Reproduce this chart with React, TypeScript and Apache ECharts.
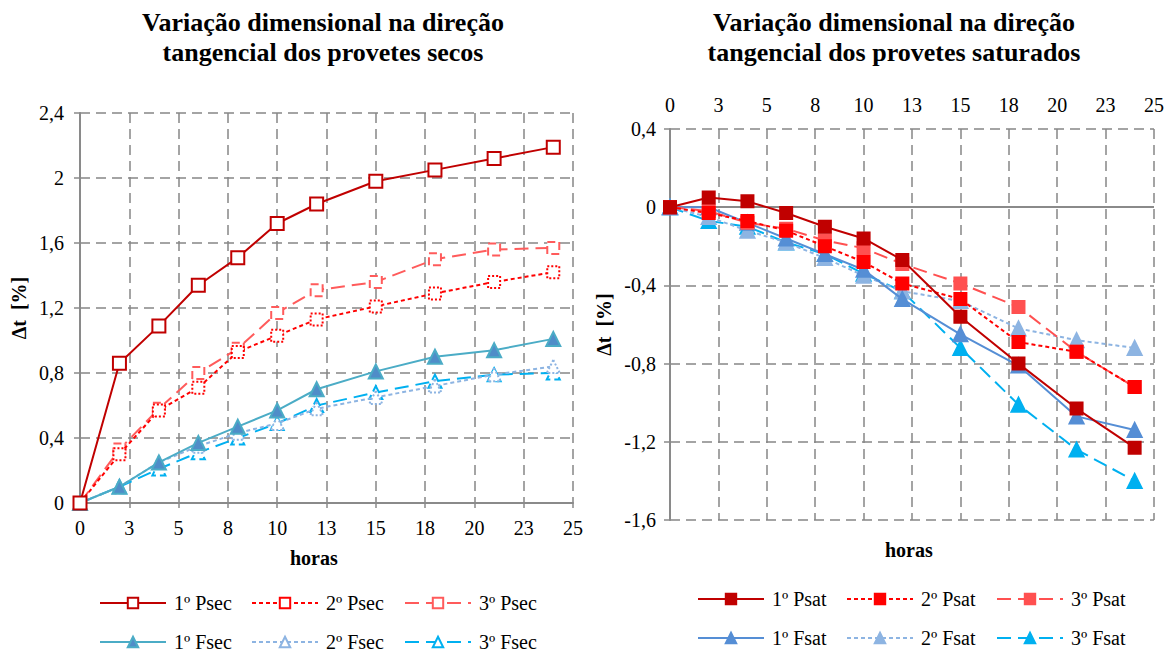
import React, { useEffect, useRef } from "react";
import * as echarts from "echarts";

const hours = [0, 2, 4, 6, 8, 10, 12, 15, 18, 21, 24];
const xTickLabels = ["0", "3", "5", "8", "10", "13", "15", "18", "20", "23", "25"];

// Dry specimens (secos)
const psec1 = [0, 0.86, 1.09, 1.34, 1.51, 1.72, 1.84, 1.98, 2.05, 2.12, 2.19];
const psec2 = [0, 0.3, 0.57, 0.71, 0.93, 1.03, 1.13, 1.21, 1.29, 1.36, 1.42];
const psec3 = [0, 0.33, 0.58, 0.8, 0.95, 1.17, 1.31, 1.36, 1.5, 1.56, 1.57];
const fsec1 = [0, 0.1, 0.25, 0.37, 0.47, 0.57, 0.7, 0.81, 0.9, 0.94, 1.01];
const fsec2 = [0, 0.1, 0.25, 0.35, 0.43, 0.49, 0.58, 0.65, 0.72, 0.79, 0.84];
const fsec3 = [0, 0.1, 0.21, 0.31, 0.4, 0.49, 0.6, 0.68, 0.75, 0.79, 0.8];

// Saturated specimens (saturados)
const psat1 = [0, 0.05, 0.03, -0.03, -0.1, -0.16, -0.27, -0.56, -0.8, -1.03, -1.23];
const psat2 = [0, -0.03, -0.07, -0.12, -0.2, -0.28, -0.39, -0.47, -0.69, -0.74, -0.92];
const psat3 = [0, -0.02, -0.08, -0.11, -0.17, -0.21, -0.29, -0.39, -0.51, -0.74, -0.92];
const fsat1 = [0, 0.0, -0.08, -0.16, -0.24, -0.32, -0.47, -0.65, -0.81, -1.07, -1.14];
const fsat2 = [0, -0.05, -0.12, -0.18, -0.26, -0.35, -0.43, -0.48, -0.62, -0.68, -0.72];
const fsat3 = [0, -0.07, -0.1, -0.18, -0.24, -0.34, -0.43, -0.72, -1.01, -1.24, -1.4];

const FONT = "Liberation Serif";
const GRID_COLOR = "#878787";
const AXIS_COLOR = "#8a8a8a";

const fmtY = (v: number) => String(+v.toFixed(1)).replace(".", ",");
const fmtX = (v: number) => xTickLabels[Math.round(v / 2.5)] ?? "";

const pair = (vals: number[]) => hours.map((h, i) => [h, vals[i]]);

const DOT = [4, 3];
const DASH = [14, 7];

function mkSeries(
  name: string,
  vals: number[],
  idx: number,
  color: string,
  dash: any,
  symbol: string,
  fill: string,
  borderDash: any,
  size: number,
  z: number,
  extra: any = {}
) {
  return {
    name,
    type: "line",
    xAxisIndex: idx,
    yAxisIndex: idx,
    data: pair(vals),
    symbol,
    symbolSize: size,
    showAllSymbol: true,
    z,
    lineStyle: { color, width: 2, type: dash },
    itemStyle: { color: fill, borderColor: color, borderWidth: 2, borderType: borderDash },
    emphasis: { disabled: true },
    ...extra,
  };
}

export default function App() {
  const ref = useRef<HTMLDivElement>(null);
  useEffect(() => {
    if (!ref.current) return;
    const chart = echarts.init(ref.current, undefined, { renderer: "svg" });

    const axisLabel = { color: "#000", fontFamily: FONT, fontSize: 20 };
    const splitLine = { show: true, lineStyle: { color: GRID_COLOR, width: 1.5, type: [10, 6] } };

    const legendPos = [
      // left chart
      { name: "1º Psec", left: 99, top: 593 },
      { name: "2º Psec", left: 251, top: 593 },
      { name: "3º Psec", left: 404, top: 593 },
      { name: "1º Fsec", left: 99, top: 632 },
      { name: "2º Fsec", left: 251, top: 632 },
      { name: "3º Fsec", left: 404, top: 632 },
      // right chart
      { name: "1º Psat", left: 697, top: 589 },
      { name: "2º Psat", left: 846, top: 589 },
      { name: "3º Psat", left: 996, top: 589 },
      { name: "1º Fsat", left: 697, top: 628 },
      { name: "2º Fsat", left: 846, top: 628 },
      { name: "3º Fsat", left: 996, top: 628 },
    ];

    const titleStyle = { fontFamily: FONT, fontSize: 26, fontWeight: "bold", color: "#000", lineHeight: 30 };

    const option: any = {
      animation: false,
      backgroundColor: "#fff",
      textStyle: { fontFamily: FONT },
      title: [
        {
          text: "Variação dimensional na direção\ntangencial dos provetes secos",
          left: 318,
          top: 2,
          textAlign: "center",
          textStyle: titleStyle,
        },
        {
          text: "Variação dimensional na direção\ntangencial dos provetes saturados",
          left: 889,
          top: 2,
          textAlign: "center",
          textStyle: titleStyle,
        },
      ],
      legend: legendPos.map((l) => ({
        data: [l.name],
        left: l.left,
        top: l.top,
        padding: 0,
        itemWidth: 66,
        itemHeight: 13,
        itemGap: 0,
        selectedMode: false,
        textStyle: { fontFamily: FONT, fontSize: 20, color: "#000", padding: [0, 0, 0, 3] },
      })),
      grid: [
        { left: 80, top: 113, width: 493, height: 390 },
        { left: 670, top: 129, width: 484, height: 391 },
      ],
      xAxis: [
        {
          gridIndex: 0,
          type: "value",
          min: 0,
          max: 25,
          interval: 2.5,
          position: "bottom",
          axisLine: { show: true, onZero: false, lineStyle: { color: AXIS_COLOR, width: 2 } },
          axisTick: { show: true, length: 5, lineStyle: { color: AXIS_COLOR, width: 1.5 } },
          axisLabel: { ...axisLabel, margin: 15, formatter: fmtX },
          splitLine,
        },
        {
          gridIndex: 1,
          type: "value",
          min: 0,
          max: 25,
          interval: 2.5,
          position: "top",
          axisLine: { show: false, onZero: false },
          axisTick: { show: false },
          axisLabel: { ...axisLabel, margin: 14, formatter: fmtX },
          splitLine,
        },
      ],
      yAxis: [
        {
          gridIndex: 0,
          type: "value",
          min: 0,
          max: 2.4,
          interval: 0.4,
          name: "Δt  [%]",
          nameLocation: "middle",
          nameRotate: 90,
          nameGap: 51,
          nameTextStyle: { fontFamily: FONT, fontSize: 20, fontWeight: "bold", color: "#000" },
          axisLine: { show: true, onZero: false, lineStyle: { color: AXIS_COLOR, width: 2 } },
          axisTick: { show: true, length: 6, lineStyle: { color: AXIS_COLOR, width: 1.5 } },
          axisLabel: { ...axisLabel, margin: 16, formatter: fmtY },
          splitLine,
        },
        {
          gridIndex: 1,
          type: "value",
          min: -1.6,
          max: 0.4,
          interval: 0.4,
          name: "Δt  [%]",
          nameLocation: "middle",
          nameRotate: 90,
          nameGap: 56,
          nameTextStyle: { fontFamily: FONT, fontSize: 20, fontWeight: "bold", color: "#000" },
          axisLine: { show: true, onZero: false, lineStyle: { color: AXIS_COLOR, width: 2 } },
          axisTick: { show: true, length: 6, lineStyle: { color: AXIS_COLOR, width: 1.5 } },
          axisLabel: { ...axisLabel, margin: 14, formatter: fmtY },
          splitLine,
        },
      ],
      graphic: [
        {
          type: "text",
          left: 290,
          top: 548,
          style: { text: "horas", fontFamily: FONT, fontSize: 20, fontWeight: "bold", fill: "#000" },
        },
        {
          type: "text",
          left: 885,
          top: 540,
          style: { text: "horas", fontFamily: FONT, fontSize: 20, fontWeight: "bold", fill: "#000" },
        },
      ],
      series: [
        mkSeries("1º Psec", psec1, 0, "#C00000", "solid", "rect", "#fff", "solid", 13, 16),
        mkSeries("2º Psec", psec2, 0, "#FF0000", DOT, "rect", "#fff", "dotted", 12, 15),
        mkSeries("3º Psec", psec3, 0, "#FF5B5B", DASH, "rect", "#fff", "dashed", 12, 14),
        mkSeries("1º Fsec", fsec1, 0, "#4BACC6", "solid", "triangle", "#4F8DC8", "solid", 14, 13),
        mkSeries("2º Fsec", fsec2, 0, "#8DB4E2", DOT, "triangle", "#fff", "dotted", 13, 12),
        mkSeries("3º Fsec", fsec3, 0, "#00B0F0", DASH, "triangle", "#fff", "dashed", 13, 11),

        mkSeries("1º Psat", psat1, 1, "#C00000", "solid", "rect", "#C00000", "solid", 12, 16, {
          markLine: {
            silent: true,
            symbol: "none",
            label: { show: false },
            lineStyle: { color: AXIS_COLOR, width: 2, type: "solid" },
            data: [{ yAxis: 0 }],
            z: 1,
          },
        }),
        mkSeries("2º Psat", psat2, 1, "#FF0000", DOT, "rect", "#FF0000", "solid", 12, 15),
        mkSeries("3º Psat", psat3, 1, "#FF5050", DASH, "rect", "#FF5050", "solid", 12, 14),
        mkSeries("1º Fsat", fsat1, 1, "#558ED5", "solid", "triangle", "#558ED5", "solid", 14, 13),
        mkSeries("2º Fsat", fsat2, 1, "#8DB4E2", DOT, "triangle", "#8DB4E2", "solid", 14, 12),
        mkSeries("3º Fsat", fsat3, 1, "#00B0F0", DASH, "triangle", "#00B0F0", "solid", 14, 11),
      ],
    };

    chart.setOption(option);
    return () => chart.dispose();
  }, []);

  return (
    <div
      ref={ref}
      style={{ position: "absolute", left: 0, top: 0, width: 1170, height: 655, background: "#fff" }}
    />
  );
}
